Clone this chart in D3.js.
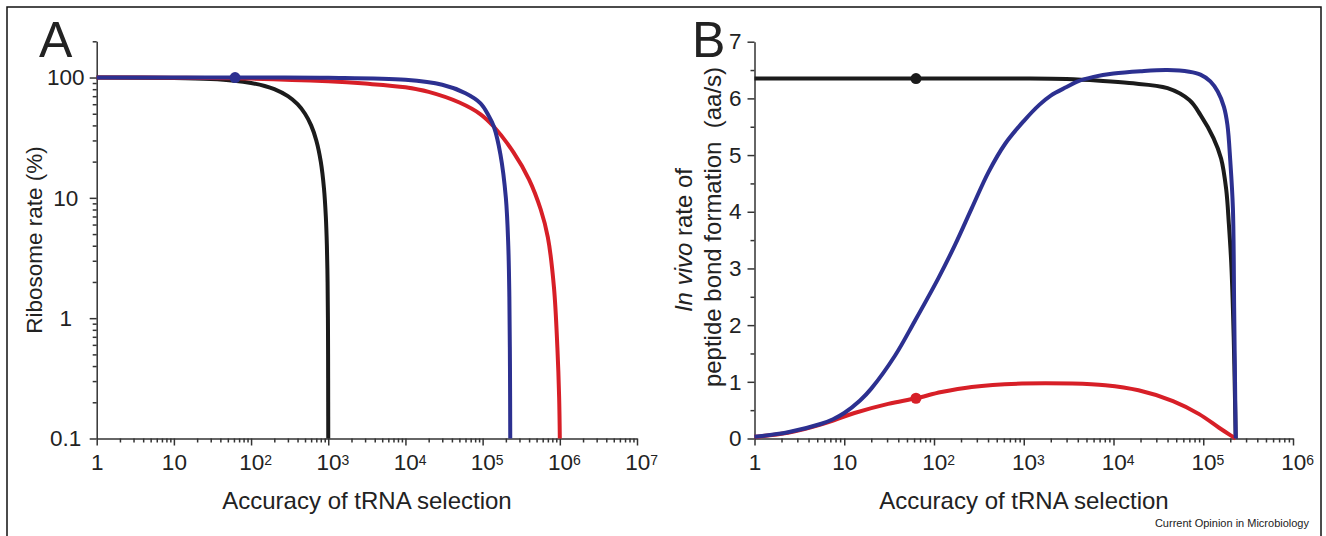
<!DOCTYPE html>
<html lang="en">
<head>
<meta charset="UTF-8">
<title>Ribosome rate vs accuracy of tRNA selection</title>
<script src="https://cdn.jsdelivr.net/npm/d3@7"></script>
<style>
    body { margin: 0; background: #fff; }
    text { font-family: "Liberation Sans", Arial, sans-serif; fill: #222; }
    .line { fill: none; stroke-width: 4; stroke-linejoin: round; }
    .axis path, .axis line { stroke: #333; stroke-width: 1.5; }
    .axis text { font-size: 22.5px; fill: #222; }
</style>
</head>
<body>
<svg id="chart" width="1326" height="536"></svg>
<script>
// ---- panel A: ribosome rate (%) vs accuracy (log-log) ----
let blackA_acc = [1, 10, 30, 60, 100, 150, 200, 300, 400, 500, 600, 700, 800, 880, 930, 960, 980, 990, 995, 998, 1000]
let blackA_rate = [100, 99, 97, 94, 90, 85, 80, 70, 60, 50, 40, 30, 20, 12, 7, 4, 2, 1, 0.5, 0.2, 0.1]

let redA_acc = [1, 10, 100, 1000, 3000, 1e4, 2e4, 5e4, 9.4e4, 1.4e5, 2.5e5, 4e5, 5.66e5, 7e5, 8.4e5, 9.3e5, 9.8e5, 1e6]
let redA_rate = [100, 99.6, 98, 93, 89, 83, 76, 62, 49.5, 39, 24, 14.2, 8, 4.7, 1.8, 0.57, 0.22, 0.1]

let blueA_acc = [1, 10, 100, 1000, 1e4, 3e4, 6e4, 9.4e4, 1.2e5, 1.4e5, 1.7e5, 2.0e5, 2.15e5, 2.22e5, 2.26e5, 2.28e5]
let blueA_rate = [100, 100, 99.9, 99.5, 95.7, 87, 74, 61, 48, 39, 23, 10, 4, 1.5, 0.4, 0.1]

let dotA = [62, 100]

// ---- panel B: in vivo rate of peptide bond formation (aa/s) ----
let blackB_acc = [1, 10, 100, 1000, 3000, 7000, 1.5e4, 4e4, 7e4, 9.3e4, 1.3e5, 1.58e5, 1.8e5, 1.93e5, 2.05e5, 2.14e5, 2.22e5, 2.27e5, 2.3e5]
let blackB_rate = [6.35, 6.35, 6.35, 6.35, 6.34, 6.31, 6.27, 6.18, 5.97, 5.71, 5.3, 4.94, 4.4, 3.78, 3.1, 2.3, 1.3, 0.5, 0]

let blueB_acc = [1, 2.36, 5.56, 7.5, 10, 15, 20, 36.7, 61, 112, 172, 263, 405, 621, 1000, 1500, 2000, 3000, 4000, 6000, 1e4, 2e4, 4e4, 7e4, 9.3e4, 1.2e5, 1.45e5, 1.7e5, 1.86e5, 2.0e5, 2.14e5, 2.21e5, 2.26e5, 2.3e5]
let blueB_rate = [0.03, 0.11, 0.26, 0.34, 0.45, 0.67, 0.88, 1.46, 2.07, 2.83, 3.42, 4.06, 4.7, 5.2, 5.6, 5.89, 6.05, 6.2, 6.3, 6.38, 6.44, 6.48, 6.5, 6.47, 6.42, 6.3, 6.12, 5.85, 5.53, 4.9, 4.06, 2.3, 1.0, 0]

let redB_acc = [1, 2.36, 5.56, 13, 30.9, 62.9, 121, 263, 955, 3460, 8100, 1.9e4, 4.6e4, 9e4, 1.5e5, 2e5, 2.3e5]
let redB_rate = [0.03, 0.10, 0.25, 0.45, 0.61, 0.71, 0.82, 0.91, 0.97, 0.97, 0.94, 0.85, 0.66, 0.43, 0.19, 0.06, 0]

let dotB_black = [63, 6.35]
let dotB_red = [63, 0.71]

// tick values
let xExpA = [0, 1, 2, 3, 4, 5, 6, 7]
let xExpB = [0, 1, 2, 3, 4, 5, 6]
let yTicksA = [0.1, 1, 10, 100]
let yTicksB = [0, 1, 2, 3, 4, 5, 6, 7]

let colors = { black: "#1b1b1b", red: "#d71f27", blue: "#2c3090" }

let svg = d3.select("#chart")

svg.append("rect")
    .attr("x", 7).attr("y", 7)
    .attr("width", 1314).attr("height", 560)
    .attr("fill", "none").attr("stroke", "#111").attr("stroke-width", 1.5)

function minorLog(exps) {
    let out = []
    for (let k = exps[0]; k < exps[exps.length - 1]; k++)
        for (let m = 2; m <= 9; m++) out.push(m * Math.pow(10, k))
    return out
}

function drawXAxis(g, x, exps, y0) {
    let major = g.append("g").attr("class", "axis")
        .attr("transform", "translate(0," + y0 + ")")
        .call(d3.axisBottom(x)
            .tickValues(exps.map(k => Math.pow(10, k)))
            .tickSize(7).tickSizeOuter(0).tickPadding(9))
    major.selectAll(".tick text").each(function(d) {
        let k = Math.round(Math.log10(d))
        let t = d3.select(this).text(null)
        if (k == 0) t.text("1")
        else if (k == 1) t.text("10")
        else {
            t.attr("text-anchor", "start").attr("x", -12.3)
            t.append("tspan").text("10")
            t.append("tspan").attr("dy", "-0.4em").attr("font-size", "0.62em").text(k)
        }
    })
    let minor = g.append("g").attr("class", "axis")
        .attr("transform", "translate(0," + y0 + ")")
        .call(d3.axisBottom(x).tickValues(minorLog(exps)).tickSize(4).tickFormat(""))
    minor.select(".domain").remove()
}

function drawLine(g, x, y, xs, ys, color) {
    let line = d3.line()
        .x(d => x(d[0]))
        .y(d => y(d[1]))
        .curve(d3.curveCatmullRom.alpha(0.5))
    g.append("path")
        .attr("class", "line")
        .attr("stroke", color)
        .attr("d", line(d3.zip(xs, ys)))
}

function drawDot(g, x, y, p, color) {
    g.append("circle")
        .attr("cx", x(p[0])).attr("cy", y(p[1]))
        .attr("r", 5.5).attr("fill", color)
}

// ---------- panel A ----------
let gA = svg.append("g")
let xA = d3.scaleLog().domain([1, 1e7]).range([96.7, 637])
let yA = d3.scaleLog().domain([0.1, 200]).range([438.5, 41.3])

let yAxisA = gA.append("g").attr("class", "axis")
    .attr("transform", "translate(96.7,0)")
    .call(d3.axisLeft(yA).tickValues(yTicksA).tickSize(7).tickSizeOuter(0)
        .tickFormat(d => d < 1 ? "0.1" : d3.format("d")(d)))
yAxisA.selectAll(".tick text").attr("text-anchor", "middle").attr("x", -31)
let yMinorA = gA.append("g").attr("class", "axis")
    .attr("transform", "translate(96.7,0)")
    .call(d3.axisLeft(yA)
        .tickValues(minorLog([-1, 2]).concat([200]))
        .tickSize(4).tickFormat(""))
yMinorA.select(".domain").remove()

drawXAxis(gA, xA, xExpA, 438.5)

drawLine(gA, xA, yA, blackA_acc, blackA_rate, colors.black)
drawLine(gA, xA, yA, redA_acc, redA_rate, colors.red)
drawLine(gA, xA, yA, blueA_acc, blueA_rate, colors.blue)
drawDot(gA, xA, yA, dotA, colors.blue)

gA.append("text").attr("x", 39).attr("y", 57)
    .attr("font-size", 50).text("A")
gA.append("text")
    .attr("transform", "translate(42,240) rotate(-90)")
    .attr("text-anchor", "middle").attr("font-size", 22.5)
    .text("Ribosome rate (%)")
gA.append("text").attr("x", 367).attr("y", 509)
    .attr("text-anchor", "middle").attr("font-size", 24)
    .text("Accuracy of tRNA selection")

// ---------- panel B ----------
let gB = svg.append("g")
let xB = d3.scaleLog().domain([1, 1e6]).range([754.5, 1293])
let yB = d3.scaleLinear().domain([0, 7]).range([438.5, 41.7])

gB.append("g").attr("class", "axis")
    .attr("transform", "translate(754.5,0)")
    .call(d3.axisLeft(yB).tickValues(yTicksB).tickSize(7).tickSizeOuter(0).tickPadding(6)
        .tickFormat(d3.format("d")))
let yMinorB = gB.append("g").attr("class", "axis")
    .attr("transform", "translate(754.5,0)")
    .call(d3.axisLeft(yB).tickValues(yTicksB.slice(0, -1).map(v => v + 0.5)).tickSize(4).tickFormat(""))
yMinorB.select(".domain").remove()

drawXAxis(gB, xB, xExpB, 438.5)

drawLine(gB, xB, yB, blackB_acc, blackB_rate, colors.black)
drawLine(gB, xB, yB, redB_acc, redB_rate, colors.red)
drawLine(gB, xB, yB, blueB_acc, blueB_rate, colors.blue)
drawDot(gB, xB, yB, dotB_black, colors.black)
drawDot(gB, xB, yB, dotB_red, colors.red)

gB.append("text").attr("x", 692).attr("y", 57)
    .attr("font-size", 50).text("B")

let yTitleB = gB.append("text")
    .attr("transform", "translate(692,240) rotate(-90)")
    .attr("text-anchor", "middle").attr("font-size", 24)
yTitleB.append("tspan").attr("font-style", "italic").text("In vivo")
yTitleB.append("tspan").text(" rate of")

gB.append("text")
    .attr("transform", "translate(721,227) rotate(-90)")
    .attr("text-anchor", "middle").attr("font-size", 24)
    .style("white-space", "pre")
    .text("peptide bond formation  (aa/s)")

gB.append("text").attr("x", 1024).attr("y", 509)
    .attr("text-anchor", "middle").attr("font-size", 24)
    .text("Accuracy of tRNA selection")

svg.append("text").attr("x", 1309).attr("y", 527)
    .attr("text-anchor", "end").attr("font-size", 11)
    .text("Current Opinion in Microbiology")
</script>
</body>
</html>
